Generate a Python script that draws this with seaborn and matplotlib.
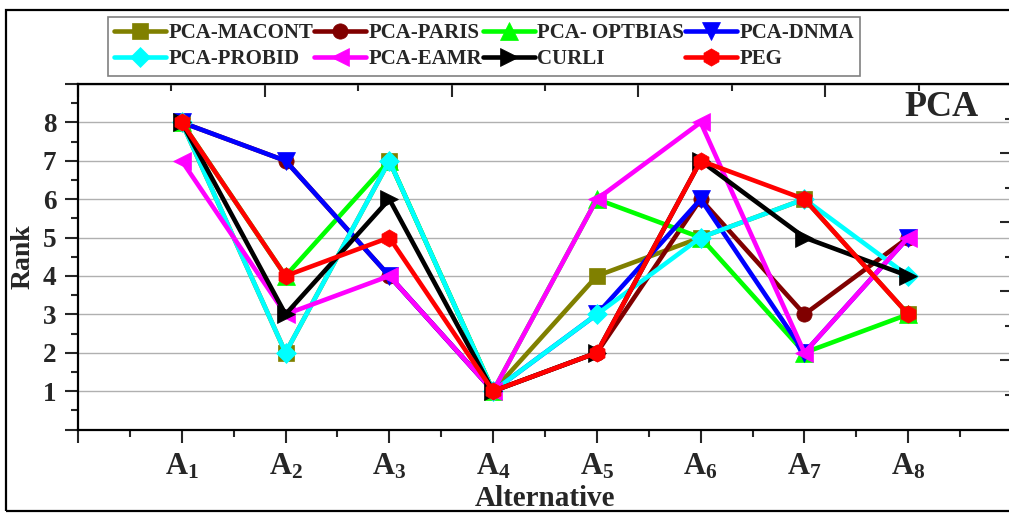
import numpy as np
import matplotlib
matplotlib.use("Agg")
import matplotlib.pyplot as plt
from matplotlib.ticker import MultipleLocator, FixedLocator
from matplotlib.patches import Rectangle
import seaborn as sns

# Ranks of the eight alternatives under each method
alternatives = [1, 2, 3, 4, 5, 6, 7, 8]
alt_labels = [r"$\mathbf{A_{%d}}$" % i for i in alternatives]

pca_macont = [8, 2, 7, 1, 4, 5, 6, 3]
pca_paris = [8, 7, 4, 1, 2, 6, 3, 5]
pca_optbias = [8, 4, 7, 1, 6, 5, 2, 3]
pca_dnma = [8, 7, 4, 1, 3, 6, 2, 5]
pca_probid = [8, 2, 7, 1, 3, 5, 6, 4]
pca_eamr = [7, 3, 4, 1, 6, 8, 2, 5]
curli = [8, 3, 6, 1, 2, 7, 5, 4]
peg = [8, 4, 5, 1, 2, 7, 6, 3]

series_names = ["PCA-MACONT", "PCA-PARIS", "PCA- OPTBIAS", "PCA-DNMA",
                "PCA-PROBID", "PCA-EAMR", "CURLI", "PEG"]
series_values = [pca_macont, pca_paris, pca_optbias, pca_dnma,
                 pca_probid, pca_eamr, curli, peg]
series_colors = ["#808000", "#800000", "#00FF00", "#0000FF",
                 "#00FFFF", "#FF00FF", "#000000", "#FF0000"]
series_markers = ["s", "o", "^", "v", "D", "<", ">", "h"]
marker_sizes = [11, 11, 12.5, 12.5, 10.5, 12.5, 12.5, 12.5]

sns.set_style("ticks")
plt.rcParams["font.family"] = ["Liberation Serif", "DejaVu Serif"]
plt.rcParams["font.weight"] = "bold"
plt.rcParams["mathtext.fontset"] = "custom"
plt.rcParams["mathtext.rm"] = "Liberation Serif"
plt.rcParams["mathtext.bf"] = "Liberation Serif:bold"

fig = plt.figure(figsize=(10.09, 5.14), dpi=100)
fig.patch.set_facecolor("white")
ax = fig.add_axes([78 / 1009, (514 - 429.5) / 514, 934 / 1009, 345.5 / 514])

for name, vals, color, marker, ms in zip(series_names, series_values,
                                         series_colors, series_markers,
                                         marker_sizes):
    sns.lineplot(x=alternatives, y=vals, ax=ax, color=color, marker=marker,
                 markersize=ms, linewidth=3.3, markeredgecolor=color,
                 markeredgewidth=0.5, legend=False)

ax.set_xlim(0, 9)
ax.set_ylim(0, 9)

# bottom axis
ax.xaxis.set_major_locator(FixedLocator(range(0, 10)))
ax.set_xticklabels([""] + alt_labels + [""])
ax.xaxis.set_minor_locator(MultipleLocator(0.5))
# left axis
ax.yaxis.set_major_locator(FixedLocator(range(0, 10)))
ax.set_yticklabels([""] + [str(i) for i in range(1, 9)] + [""])
ax.yaxis.set_minor_locator(MultipleLocator(0.5))

ax.tick_params(axis="x", which="major", direction="out", length=9, width=1.5,
               labelsize=22, pad=7)
ax.tick_params(axis="x", which="minor", direction="out", length=5, width=1.5)
ax.tick_params(axis="y", which="major", direction="out", length=9.5, width=1.5,
               labelsize=19.5, pad=6)
ax.tick_params(axis="y", which="minor", direction="out", length=5, width=1.5)

ax.yaxis.grid(True, which="major", color="#b0b0b0", linewidth=1.0)
ax.xaxis.grid(False)
ax.set_axisbelow(True)

for side in ["left", "bottom", "top", "right"]:
    ax.spines[side].set_visible(True)
    ax.spines[side].set_linewidth(1.6)
    ax.spines[side].set_color("black")

# secondary scales on the top and right edges
top = ax.secondary_xaxis("top", functions=(lambda x: x * 10 / 9,
                                           lambda x: x * 9 / 10))
top.xaxis.set_major_locator(MultipleLocator(2))
top.xaxis.set_minor_locator(MultipleLocator(1))
top.tick_params(which="major", direction="in", length=9, width=1.5,
                labeltop=False)
top.tick_params(which="minor", direction="in", length=5, width=1.5)

right = ax.secondary_yaxis("right", functions=(lambda y: y * 10 / 9,
                                               lambda y: y * 9 / 10))
right.yaxis.set_major_locator(MultipleLocator(2))
right.yaxis.set_minor_locator(MultipleLocator(1))
right.tick_params(which="major", direction="in", length=9, width=1.5,
                  labelright=False)
right.tick_params(which="minor", direction="in", length=5, width=1.5)

ax.set_xlabel("Alternative", fontsize=21, fontweight="bold", labelpad=3)
ax.set_ylabel("Rank", fontsize=20, fontweight="bold", labelpad=5)

fig.text(941 / 1009, 1 - 107 / 514, "PCA", ha="center", va="center",
         fontsize=26, fontweight="bold")

# legend laid out row by row
lines = ax.get_lines()[:8]
order = [0, 4, 1, 5, 2, 6, 3, 7]
leg = fig.legend([lines[i] for i in order], [series_names[i] for i in order],
                 loc="upper left", bbox_to_anchor=(108 / 1009, 1 - 17 / 514),
                 ncol=4, fontsize=15, frameon=True, fancybox=False,
                 edgecolor="#808080", framealpha=1, borderpad=0.3,
                 handlelength=2.5, handletextpad=0.1, columnspacing=0.05,
                 labelspacing=0.3, borderaxespad=0)
leg.get_frame().set_linewidth(1.2)
for t in leg.get_texts():
    t.set_fontweight("bold")

# outer frame around the figure
fig.patches.append(Rectangle((6 / 1009, 3 / 514), 1.02, 501 / 514,
                             transform=fig.transFigure, fill=False,
                             edgecolor="black", linewidth=1.6,
                             clip_on=False))

fig.savefig("out.png", dpi=100)
